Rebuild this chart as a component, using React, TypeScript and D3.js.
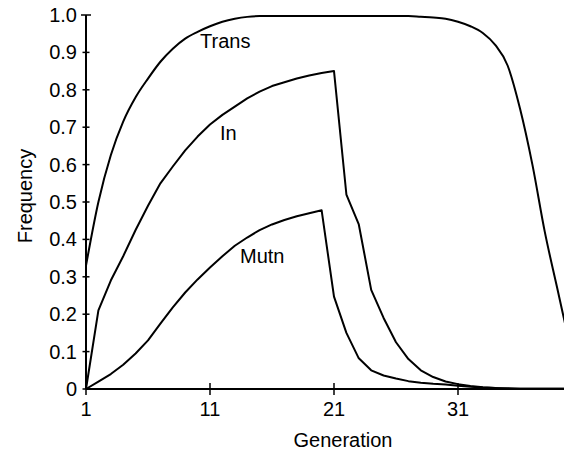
import { useRef, useEffect } from 'react';
import * as d3 from 'd3';

/* ── Data (one value per generation, 1..40) ── */
const GENERATIONS = d3.range(1, 41);

const TRANS = [
  0.33, 0.5, 0.625, 0.715, 0.78, 0.83, 0.875, 0.91, 0.937, 0.955,
  0.97, 0.982, 0.99, 0.995, 0.997, 0.997, 0.997, 0.997, 0.997, 0.997,
  0.997, 0.997, 0.997, 0.997, 0.997, 0.997, 0.997, 0.995, 0.993, 0.99,
  0.982, 0.97, 0.952, 0.92, 0.865, 0.75, 0.6, 0.42, 0.27, 0.12,
];

const IN = [
  0, 0.21, 0.29, 0.355, 0.425, 0.49, 0.55, 0.595, 0.638, 0.675,
  0.707, 0.733, 0.755, 0.777, 0.795, 0.81, 0.82, 0.83, 0.838, 0.845,
  0.85, 0.52, 0.44, 0.265, 0.19, 0.125, 0.08, 0.05, 0.032, 0.02,
  0.013, 0.008, 0.005, 0.003, 0.002, 0.001, 0.001, 0.001, 0.001, 0.001,
];

const MUTN = [
  0, 0.02, 0.04, 0.065, 0.095, 0.13, 0.175, 0.218, 0.258, 0.293,
  0.325, 0.355, 0.383, 0.405, 0.425, 0.44, 0.452, 0.462, 0.47, 0.478,
  0.247, 0.15, 0.082, 0.05, 0.036, 0.028, 0.021, 0.017, 0.014, 0.012,
  0.009, 0.006, 0.004, 0.003, 0.001, 0.001, 0.001, 0.001, 0.001, 0.001,
];

const SERIES = [
  { name: "Trans", values: TRANS, label: [200, 48], smooth: true },
  { name: "In", values: IN, label: [220, 140], smooth: false },
  { name: "Mutn", values: MUTN, label: [240, 263], smooth: false },
];

const X_TICKS = [1, 11, 21, 31];
const Y_TICKS = d3.range(0, 11).map(i => i / 10);

const FONT = '"Liberation Sans", Arial, sans-serif';

function App() {
  const svgRef = useRef<SVGSVGElement>(null);

  useEffect(() => {
    const svg = d3.select(svgRef.current);
    svg.selectAll("*").remove();

    const W = 564, H = 451;
    svg.attr("width", W).attr("height", H);

    // gen 1 -> 86px, 12.4px per generation; value 0 -> 389, 1 -> 15
    const x = d3.scaleLinear().domain([1, 41]).range([86, 582]);
    const y = d3.scaleLinear().domain([0, 1]).range([389, 15]);

    const g = svg.append("g");

    // Axes
    g.append("line")
      .attr("x1", x(1)).attr("x2", W)
      .attr("y1", y(0)).attr("y2", y(0))
      .attr("stroke", "#000").attr("stroke-width", 2);
    g.append("line")
      .attr("x1", x(1)).attr("x2", x(1))
      .attr("y1", y(0)).attr("y2", y(1))
      .attr("stroke", "#000").attr("stroke-width", 2);

    // y ticks (cross the axis), top one wider
    Y_TICKS.forEach(t => {
      const half = t === 1 ? 5 : 3.5;
      g.append("line")
        .attr("x1", x(1) - half).attr("x2", x(1) + half)
        .attr("y1", y(t)).attr("y2", y(t))
        .attr("stroke", "#000").attr("stroke-width", 1.5);
      g.append("text")
        .attr("x", x(1) - 9).attr("y", y(t) + 7)
        .attr("text-anchor", "end")
        .style("font-family", FONT).style("font-size", "20px")
        .text(t === 0 ? "0" : t.toFixed(1));
    });

    // x ticks
    X_TICKS.forEach(t => {
      g.append("line")
        .attr("x1", x(t)).attr("x2", x(t))
        .attr("y1", y(0) - 6).attr("y2", y(0) + 6)
        .attr("stroke", "#000").attr("stroke-width", 1.5);
      g.append("text")
        .attr("x", x(t)).attr("y", 416)
        .attr("text-anchor", "middle")
        .style("font-family", FONT).style("font-size", "20px")
        .text(t);
    });

    // Axis titles
    g.append("text")
      .attr("x", 343).attr("y", 447)
      .attr("text-anchor", "middle")
      .style("font-family", FONT).style("font-size", "20px")
      .text("Generation");
    g.append("text")
      .attr("transform", "translate(32,196) rotate(-90)")
      .attr("text-anchor", "middle")
      .style("font-family", FONT).style("font-size", "20px")
      .text("Frequency");

    // Curves: Trans is smooth, In / Mutn are drawn as polylines with sharp breaks
    SERIES.forEach(s => {
      const line = d3.line<number>()
        .x((_, i) => x(GENERATIONS[i]))
        .y(d => y(d))
        .curve(s.smooth ? d3.curveMonotoneX : d3.curveLinear);

      g.append("path")
        .attr("d", line(s.values))
        .attr("fill", "none")
        .attr("stroke", "#000")
        .attr("stroke-width", 2)
        .attr("stroke-linejoin", "round");
      g.append("text")
        .attr("x", s.label[0]).attr("y", s.label[1])
        .style("font-family", FONT).style("font-size", "20px")
        .text(s.name);
    });
  }, []);

  return (
    <svg ref={svgRef} style={{ position: "absolute", left: 0, top: 0, background: "#fff" }} />
  );
}

export default App;
